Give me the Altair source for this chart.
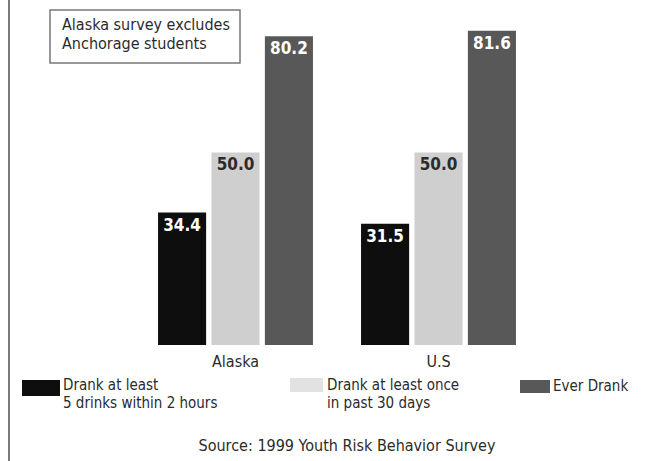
import altair as alt
import pandas as pd

FONT = "DejaVu Sans Condensed"
INK = "#2b2b2b"

# Chart values
regions = ["Alaska", "U.S"]
series = [
    "Drank at least 5 drinks within 2 hours",
    "Drank at least once in past 30 days",
    "Ever Drank",
]
alaska_values = [34.4, 50.0, 80.2]
us_values = [31.5, 50.0, 81.6]

bar_colors = ["#0e0e0e", "#cfcfcf", "#585858"]
label_colors = ["#ffffff", "#2b2b2b", "#ffffff"]

legend_lines = [
    ["Drank at least", "5 drinks within 2 hours"],
    ["Drank at least once", "in past 30 days"],
    ["Ever Drank"],
]
note_lines = ["Alaska survey excludes", "Anchorage students"]
source_text = "Source: 1999 Youth Risk Behavior Survey"

rows = []
for region, values in zip(regions, [alaska_values, us_values]):
    for s, v in zip(series, values):
        rows.append({"region": region, "series": s, "value": v, "label": f"{v:.1f}"})
df = pd.DataFrame(rows)

x_enc = alt.X(
    "region:N",
    sort=regions,
    scale=alt.Scale(domain=regions, range=[134, 540], paddingInner=0, paddingOuter=0),
    axis=alt.Axis(
        title=None, domain=False, ticks=False, labelAngle=0, labelPadding=8,
        labelFontSize=16, labelFont=FONT, labelColor=INK,
    ),
)
xoff_enc = alt.XOffset(
    "series:N", sort=series,
    scale=alt.Scale(domain=series, paddingInner=0.1, paddingOuter=0.45),
)
y_enc = alt.Y("value:Q", scale=alt.Scale(domain=[0, 89.6]), axis=None)

bars = alt.Chart(df).mark_bar().encode(
    x=x_enc,
    xOffset=xoff_enc,
    y=y_enc,
    color=alt.Color("series:N", scale=alt.Scale(domain=series, range=bar_colors), legend=None),
)

values_text = alt.Chart(df).mark_text(
    baseline="top", dy=5, fontSize=17, fontWeight="bold", font=FONT
).encode(
    x=x_enc,
    xOffset=xoff_enc,
    y=y_enc,
    text="label:N",
    color=alt.Color("series:N", scale=alt.Scale(domain=series, range=label_colors), legend=None),
)

one = pd.DataFrame({"k": [0]})


def box(x1, x2, y1, y2, fill, stroke=None, sw=0):
    kw = {"fill": fill}
    if stroke:
        kw.update(stroke=stroke, strokeWidth=sw)
    return alt.Chart(one).mark_rect(**kw).encode(
        x=alt.value(x1), x2=alt.value(x2), y=alt.value(y1), y2=alt.value(y2)
    )


def words(text, x, y, align="left", size=16):
    return alt.Chart(one).mark_text(
        align=align, baseline="middle", font=FONT, fontSize=size, color=INK
    ).encode(x=alt.value(x), y=alt.value(y), text=alt.value(text))


# left frame line
frame = alt.Chart(one).mark_rule(color="#7a7a7a", strokeWidth=2).encode(
    x=alt.value(9), y=alt.value(0), y2=alt.value(461)
)

# note box
note = [box(50, 240, 10, 63, "white", "#777777", 1.5),
        words(note_lines[0], 62, 25), words(note_lines[1], 62, 44)]

# legend
legend = [
    box(22, 60, 380, 396, bar_colors[0]),
    words(legend_lines[0][0], 63, 385, size=15), words(legend_lines[0][1], 63, 403, size=15),
    box(290, 323, 378, 392, "#e2e2e2"),
    words(legend_lines[1][0], 327, 385, size=15), words(legend_lines[1][1], 327, 403, size=15),
    box(520, 550, 380, 393, bar_colors[2]),
    words(legend_lines[2][0], 553, 386, size=15),
]

source = words(source_text, 347, 446, align="center")

chart = alt.layer(
    bars, values_text, frame, *note, *legend, source
).resolve_scale(color="independent").properties(
    width=651,
    height=345,
    autosize=alt.AutoSizeParams(type="none"),
    padding={"left": 0, "top": 0, "right": 0, "bottom": 116},
    background="white",
).configure_view(stroke=None)

chart.save("out.html", embed_options={"renderer": "svg", "actions": False})
